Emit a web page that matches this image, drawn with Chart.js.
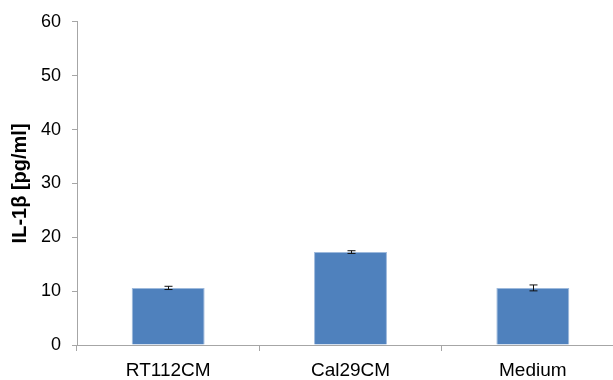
<!DOCTYPE html>
<html>
<head>
<meta charset="utf-8">
<script src="https://cdn.jsdelivr.net/npm/chart.js@4"></script>
<style>
  html, body { margin: 0; padding: 0; background: #fff; overflow: hidden; }
  #wrap { width: 613px; height: 380px; overflow: hidden; }
</style>
</head>
<body>
<div id="wrap"><canvas id="chartIL" width="626" height="380"></canvas></div>
<script>
// dados
const categorias = ['RT112CM', 'Cal29CM', 'Medium'];
const valores = [10.6, 17.25, 10.6];
const erros = [0.3, 0.25, 0.55];
const ticksY = [0, 10, 20, 30, 40, 50, 60];

const fonte = "'Liberation Sans', Arial, sans-serif";

// barras de erro desenhadas pela escala y
const barrasErro = {
    id: 'barrasErro',
    afterDatasetsDraw(chart) {
        const ctx = chart.ctx;
        const y = chart.scales.y;
        const meta = chart.getDatasetMeta(0);
        ctx.save();
        ctx.strokeStyle = '#111';
        ctx.lineWidth = 1;
        meta.data.forEach((bar, i) => {
            const x = Math.round(bar.x) + 0.5;
            const yTop = y.getPixelForValue(valores[i] + erros[i]);
            const yBot = y.getPixelForValue(valores[i] - erros[i]);
            ctx.beginPath();
            ctx.moveTo(x, yTop); ctx.lineTo(x, yBot);
            ctx.moveTo(x - 4, yTop); ctx.lineTo(x + 4, yTop);
            ctx.moveTo(x - 4, yBot); ctx.lineTo(x + 4, yBot);
            ctx.stroke();
        });
        ctx.restore();
    }
};

new Chart(document.getElementById('chartIL'), {
    type: 'bar',
    data: {
        labels: categorias,
        datasets: [{
            data: valores,
            backgroundColor: '#4F81BD',
            borderColor: '#9DB9DC',
            borderWidth: 1,
            categoryPercentage: 1,
            barPercentage: 0.4
        }]
    },
    options: {
        responsive: false,
        animation: false,
        events: [],
        layout: { padding: { left: 8, top: 10, right: 2, bottom: 0 } },
        plugins: { legend: { display: false }, tooltip: { enabled: false } },
        scales: {
            x: {
                grid: { drawOnChartArea: false, color: '#A6A6A6', tickLength: 6, offset: true },
                border: { color: '#A6A6A6' },
                ticks: { color: '#000', font: { family: fonte, size: 19 }, padding: 8 },
                afterFit(scale) { scale.height = 35; }
            },
            y: {
                min: 0,
                max: 60,
                afterBuildTicks(scale) { scale.ticks = ticksY.map(v => ({ value: v })); },
                grid: { drawOnChartArea: false, color: '#A6A6A6', tickLength: 5 },
                border: { color: '#A6A6A6' },
                ticks: { color: '#000', font: { family: fonte, size: 18 }, padding: 11 },
                title: {
                    display: true,
                    text: 'IL-1β [pg/ml]',
                    color: '#000',
                    font: { family: fonte, size: 20, weight: 'bold' },
                    padding: { top: 0, bottom: 0 }
                },
                afterFit(scale) { scale.width = 69; }
            }
        }
    },
    plugins: [barrasErro]
});
</script>
</body>
</html>
